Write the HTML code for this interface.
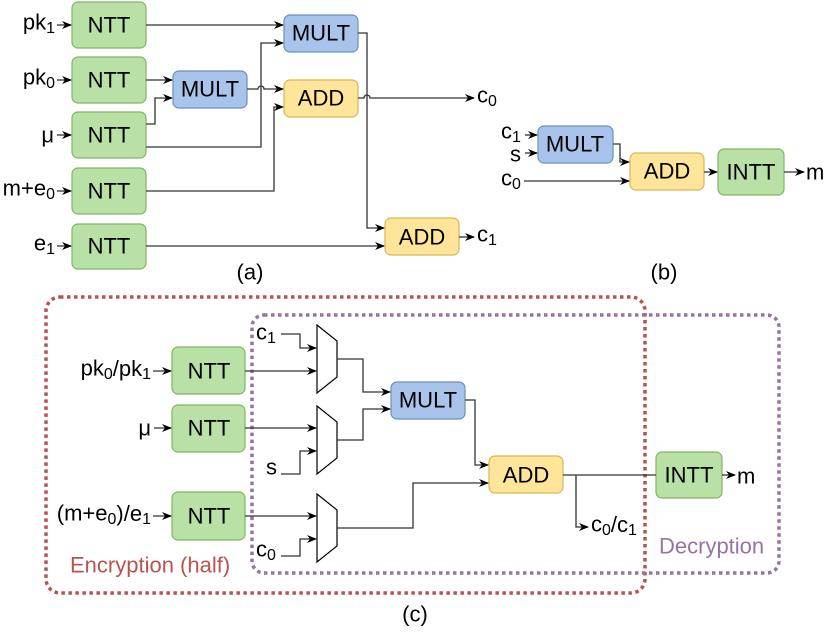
<!DOCTYPE html>
<html><head><meta charset="utf-8"><style>
html,body{margin:0;padding:0;background:#fff;}
svg{display:block;font-family:"Liberation Sans",sans-serif;}
</style></head><body>
<svg width="831" height="634" viewBox="0 0 831 634" xmlns="http://www.w3.org/2000/svg">
<defs>
<marker id="ar" markerWidth="10" markerHeight="8" refX="9" refY="4" orient="auto" markerUnits="userSpaceOnUse">
<path d="M0,0 L10,4 L0,8 L3,4 Z" fill="#000"/></marker>
</defs>
<style>
.g{fill:#b9e0a5;stroke:#82b366;stroke-width:1.2}
.b{fill:#a9c4eb;stroke:#6c8ebf;stroke-width:1.2}
.y{fill:#ffe599;stroke:#d6b656;stroke-width:1.2}
.t{font-size:22px;text-anchor:middle;dominant-baseline:central}
.l{font-size:22px;dominant-baseline:central}
.e{text-anchor:end}
.w{fill:none;stroke:#333;stroke-width:1.3}
</style>
<!-- (a) -->
<g>
<rect class="g" x="72" y="2" width="74" height="46" rx="6"/><text class="t" x="109" y="25">NTT</text>
<rect class="g" x="72" y="57" width="74" height="46" rx="6"/><text class="t" x="109" y="80">NTT</text>
<rect class="g" x="72" y="112" width="74" height="46" rx="6"/><text class="t" x="109" y="135">NTT</text>
<rect class="g" x="72" y="168" width="74" height="46" rx="6"/><text class="t" x="109" y="191">NTT</text>
<rect class="g" x="72" y="224" width="74" height="45" rx="6"/><text class="t" x="109" y="246">NTT</text>
<rect class="b" x="284" y="15" width="74" height="37" rx="6"/><text class="t" x="321" y="33">MULT</text>
<rect class="b" x="173" y="71" width="74" height="37" rx="6"/><text class="t" x="210" y="89">MULT</text>
<rect class="y" x="284" y="80" width="74" height="37" rx="6"/><text class="t" x="321" y="98">ADD</text>
<rect class="y" x="385" y="218" width="74" height="37" rx="6"/><text class="t" x="422" y="237">ADD</text>

<text class="l e" x="55" y="22">pk<tspan font-size="16" dy="6">1</tspan></text>
<text class="l e" x="55" y="77">pk<tspan font-size="16" dy="6">0</tspan></text>
<text class="l e" x="54" y="135">μ</text>
<text class="l e" x="55" y="188">m+e<tspan font-size="16" dy="6">0</tspan></text>
<text class="l e" x="55" y="243">e<tspan font-size="16" dy="6">1</tspan></text>
<g class="w" marker-end="url(#ar)">
<path d="M57,25H71"/><path d="M57,80H71"/><path d="M57,135H71"/><path d="M57,191H71"/><path d="M57,246H71"/>
<path d="M146,25H283"/>
<path d="M146,80H172"/>
<path d="M146,124H155V98H172"/>
<path d="M247,89H258a3,3 0 0 1 6,0H283"/>
<path d="M146,147H261V43H283"/>
<path d="M146,191H274V107H283"/>
<path d="M358,33H367V228H384"/>
<path d="M358,98H364a3,3 0 0 1 6,0H474"/>
<path d="M146,246H384"/>
<path d="M459,237H474"/>
</g>
<text class="l" x="477" y="95">c<tspan font-size="16" dy="6">0</tspan></text>
<text class="l" x="477" y="234">c<tspan font-size="16" dy="6">1</tspan></text>
<text class="t" x="250" y="272">(a)</text>
</g>
<!-- (b) -->
<g>
<rect class="b" x="538" y="126" width="75" height="37" rx="6"/><text class="t" x="575" y="144">MULT</text>
<rect class="y" x="630" y="153" width="74" height="37" rx="6"/><text class="t" x="667" y="171">ADD</text>
<rect class="g" x="718" y="149" width="66" height="46" rx="6"/><text class="t" x="751" y="172">INTT</text>
<text class="l" x="501" y="131">c<tspan font-size="16" dy="6">1</tspan></text>
<text class="l" x="510" y="154">s</text>
<text class="l" x="501" y="178">c<tspan font-size="16" dy="6">0</tspan></text>
<g class="w" marker-end="url(#ar)">
<path d="M525,135H537"/><path d="M525,153H537"/>
<path d="M524,181H629"/>
<path d="M613,144H620V162H629"/>
<path d="M704,172H717"/>
<path d="M784,172H804"/>
</g>
<text class="l" x="806" y="172">m</text>
<text class="t" x="664" y="272">(b)</text>
</g>
<!-- (c) -->
<g>
<rect x="46" y="297" width="599" height="296" rx="14" fill="none" stroke="#b85450" stroke-width="3.5" stroke-dasharray="3.5 3.5"/>
<rect x="252" y="315" width="527" height="258" rx="12" fill="none" stroke="#9673a6" stroke-width="3.5" stroke-dasharray="3.5 3.5"/>
<rect class="g" x="172" y="347" width="73" height="47" rx="6"/><text class="t" x="209" y="371">NTT</text>
<rect class="g" x="172" y="405" width="73" height="47" rx="6"/><text class="t" x="209" y="428">NTT</text>
<rect class="g" x="172" y="492" width="73" height="48" rx="6"/><text class="t" x="209" y="516">NTT</text>
<rect class="b" x="391" y="382" width="74" height="37" rx="6"/><text class="t" x="428" y="400">MULT</text>
<rect class="y" x="489" y="456" width="74" height="37" rx="6"/><text class="t" x="526" y="475">ADD</text>
<rect class="g" x="656" y="452" width="66" height="46" rx="6"/><text class="t" x="689" y="475">INTT</text>
<g fill="#fff" stroke="#000" stroke-width="1.2">
<path d="M317,325L337,341V377L317,393Z"/>
<path d="M317,406L337,422V458L317,474Z"/>
<path d="M317,494L337,510V546L317,562Z"/>
</g>
<text class="l e" x="151" y="368">pk<tspan font-size="16" dy="6">0</tspan><tspan dy="-6">/pk</tspan><tspan font-size="16" dy="6">1</tspan></text>
<text class="l e" x="151" y="428">μ</text>
<text class="l e" x="151" y="513">(m+e<tspan font-size="16" dy="6">0</tspan><tspan dy="-6">)/e</tspan><tspan font-size="16" dy="6">1</tspan></text>
<text class="l" x="256" y="332">c<tspan font-size="16" dy="6">1</tspan></text>
<text class="l" x="266" y="467">s</text>
<text class="l" x="256" y="549">c<tspan font-size="16" dy="6">0</tspan></text>
<g class="w" marker-end="url(#ar)">
<path d="M153,371H171"/><path d="M154,428H171"/><path d="M153,516H171"/>
<path d="M281,334H300V348H316"/>
<path d="M245,371H316"/>
<path d="M245,428H316"/>
<path d="M281,474H300V451H316"/>
<path d="M245,516H316"/>
<path d="M281,556H300V539H316"/>
<path d="M337,359H363V392H390"/>
<path d="M337,440H363V409H390"/>
<path d="M465,400H475V465H488"/>
<path d="M337,528H413V483H488"/>
<path d="M576,475V527H588"/>
<path d="M722,475H735"/>
</g>
<path class="w" d="M563,475H656"/>
<text class="l" x="591" y="524">c<tspan font-size="16" dy="6">0</tspan><tspan dy="-6">/c</tspan><tspan font-size="16" dy="6">1</tspan></text>
<text class="l" x="737" y="476">m</text>
<text class="l" x="70" y="565" fill="#b85450">Encryption (half)</text>
<text class="l" x="659" y="546" fill="#9673a6">Decryption</text>
<text class="t" x="415" y="614">(c)</text>
</g>
</svg>
</body></html>
